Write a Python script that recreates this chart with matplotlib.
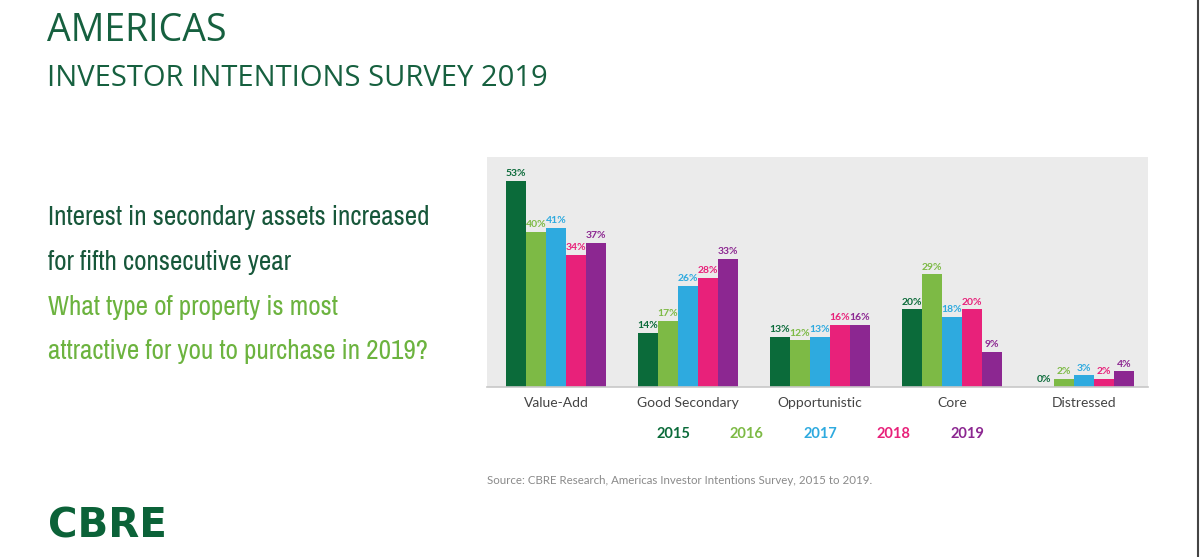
import numpy as np
import matplotlib
matplotlib.use('Agg')
import matplotlib.pyplot as plt

# data
categories = ['Value-Add', 'Good Secondary', 'Opportunistic', 'Core', 'Distressed']
years = ['2015', '2016', '2017', '2018', '2019']
v2015 = [53, 14, 13, 20, 0]
v2016 = [40, 17, 12, 29, 2]
v2017 = [41, 26, 13, 18, 3]
v2018 = [34, 28, 16, 20, 2]
v2019 = [37, 33, 16, 9, 4]
series = [v2015, v2016, v2017, v2018, v2019]
colors = ['#0b6b3a', '#7dba45', '#2eaadf', '#e8217a', '#8c2791']

fig = plt.figure(figsize=(12, 5.57), dpi=100)
fig.patch.set_facecolor('white')

ax = fig.add_axes([0.4058, 0.3052, 0.5508, 0.4129])
ax.set_facecolor('#ebebeb')

x = np.arange(len(categories))
w = 0.1515
for i, vals in enumerate(series):
    pos = x + (i - 2) * w
    ax.bar(pos, vals, width=w, color=colors[i], zorder=2)
    for px, v in zip(pos, vals):
        ax.annotate(f'{v}%', (px, v), xytext=(0, 2), textcoords='offset points',
                    ha='center', va='bottom', fontsize=7.5, fontweight='bold',
                    color=colors[i], family='Lato')

ax.set_xlim(-0.523, 4.485)
ax.set_ylim(0, 59.2)
ax.set_yticks([])
ax.set_xticks(x)
ax.set_xticklabels(categories, fontsize=10, color='#444444', family='Lato')
ax.tick_params(axis='x', length=0, pad=7)
for s in ['top', 'left', 'right']:
    ax.spines[s].set_visible(False)
ax.spines['bottom'].set_color('#c8c8c8')
ax.spines['bottom'].set_linewidth(1.2)

# year legend as coloured text
legend_x = [673, 746, 820, 893, 967]
for lx, yr, c in zip(legend_x, years, colors):
    fig.text(lx / 1200, 1 - 434 / 557, yr, ha='center', va='center',
             fontsize=10.5, fontweight='bold', color=c, family='Lato')

# titles
fig.text(47 / 1200, 1 - 31 / 557, 'AMERICAS', fontsize=27, color='#16603f',
         family='Open Sans', va='center', ha='left')
fig.text(47 / 1200, 1 - 78 / 557, 'INVESTOR INTENTIONS SURVEY 2019', fontsize=21,
         color='#16603f', family='Open Sans', va='center', ha='left')

left_lines = [('Interest in secondary assets increased', '#17573a', 225),
              ('for fifth consecutive year', '#17573a', 270),
              ('What type of property is most', '#6cb33f', 315),
              ('attractive for you to purchase in 2019?', '#6cb33f', 359)]
for txt, c, yb in left_lines:
    fig.text(48 / 1200, 1 - yb / 557, txt, fontsize=19.5, color=c,
             family='Archivo Narrow', va='baseline', ha='left')

fig.text(487 / 1200, 1 - 481 / 557,
         'Source: CBRE Research, Americas Investor Intentions Survey, 2015 to 2019.',
         fontsize=8.3, color='#8a8a8a', family='Lato', va='center', ha='left')

fig.text(48 / 1200, 1 - 527 / 557, 'CBRE', fontsize=29, color='#0b6238',
         family='DejaVu Sans', fontweight='bold', va='center', ha='left')

# thin frame line at the right edge
fig.add_artist(plt.Line2D([0.9985, 0.9985], [0, 1], color='#444444', lw=1.5,
                          transform=fig.transFigure))

fig.savefig('out.png', dpi=100, facecolor='white')
